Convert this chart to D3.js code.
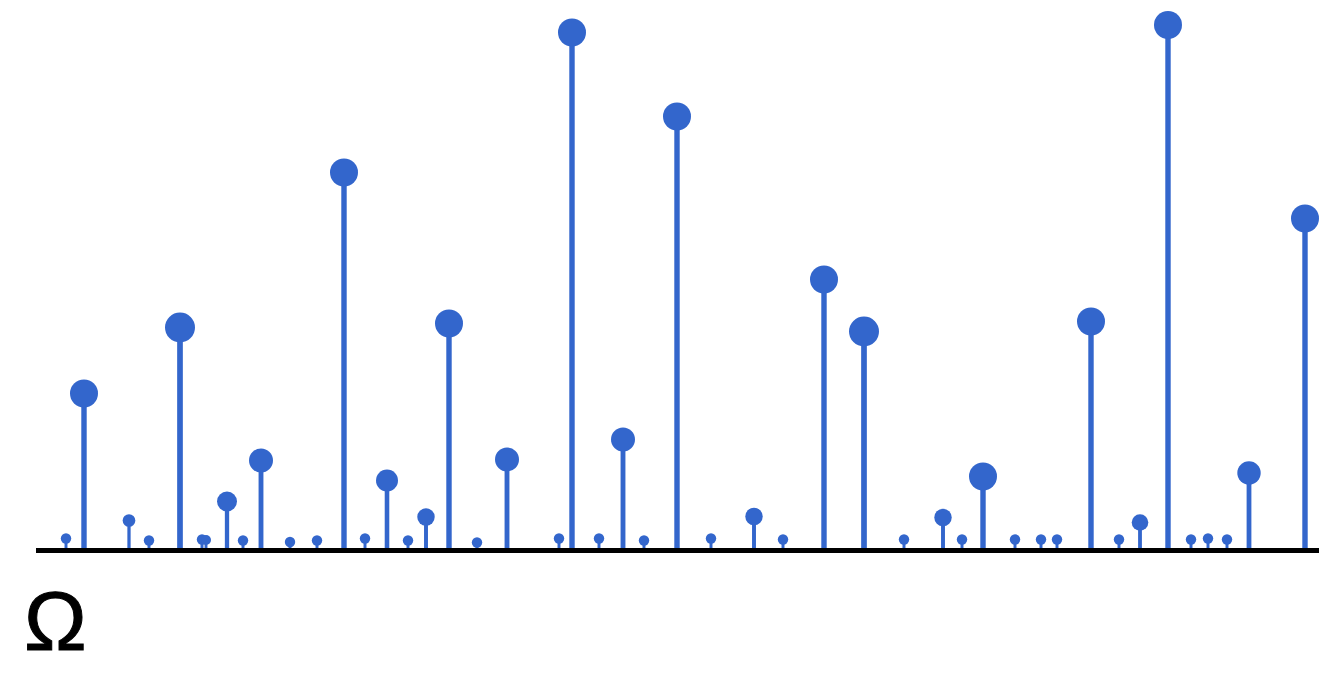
<!DOCTYPE html>
<html>
<head>
<meta charset="utf-8">
<script src="https://cdn.jsdelivr.net/npm/d3@7"></script>
<style>
  html, body { margin: 0; padding: 0; background: #ffffff; }
  svg { display: block; }
</style>
</head>
<body>
<svg id="chart" width="1319" height="675"></svg>
<script>
// ---- data ----
const positions = [66, 84, 129, 149, 180, 202, 206, 227, 243, 261, 290, 317, 344, 365, 387, 408, 426, 449, 477, 507,
                   559, 572, 599, 623, 644, 677, 711, 754, 783, 824, 864, 904, 943, 962, 983, 1015, 1041, 1057, 1091,
                   1119, 1140, 1168, 1191, 1208, 1227, 1249, 1305];
const values    = [12, 157, 30, 10, 223, 11, 10.5, 49, 10, 90, 8.5, 10, 378, 12, 70, 10, 33.5, 227, 8, 91,
                   12, 518, 12, 111, 10, 434, 12, 34, 11, 271, 219, 11, 33, 11, 74, 11, 11, 11, 229,
                   11, 28, 525.5, 11, 12, 11, 77.5, 332];
const weights   = [27, 196, 40, 27, 225, 27, 25, 100, 27, 144, 27, 27, 196, 27, 121, 27, 76, 196, 27, 144,
                   27, 196, 27, 144, 27, 196, 27, 76, 27, 196, 225, 27, 76, 27, 196, 27, 27, 27, 196,
                   27, 69, 196, 27, 27, 27, 137, 196];
const axisLabel = "Ω";

const data = positions.map((p, i) => ({ p, v: values[i], w: weights[i] }));

// ---- layout ----
const W = 1319, H = 675;
const baseY = 550.5;
const svg = d3.select("#chart");

const x = d3.scaleLinear().domain([0, 1319]).range([0, 1319]);
const y = d3.scaleLinear().domain([0, 526]).range([baseY, 24.5]);
const r = d3.scaleSqrt().domain([0, 225]).range([0, 15]);
const blue = "#3366cc";

// stems
svg.append("g").selectAll("line").data(data).join("line")
  .attr("x1", d => x(d.p)).attr("x2", d => x(d.p))
  .attr("y1", baseY).attr("y2", d => y(d.v))
  .attr("stroke", blue)
  .attr("stroke-width", d => 1.5 + r(d.w) * 0.28);

// circles
svg.append("g").selectAll("circle").data(data).join("circle")
  .attr("cx", d => x(d.p)).attr("cy", d => y(d.v))
  .attr("r", d => r(d.w))
  .attr("fill", blue);

// baseline
svg.append("line")
  .attr("x1", 36).attr("x2", W)
  .attr("y1", baseY).attr("y2", baseY)
  .attr("stroke", "#000").attr("stroke-width", 5);

// omega label
svg.append("text")
  .attr("x", 24).attr("y", 650)
  .attr("font-family", "Liberation Sans, Arial, sans-serif")
  .attr("font-size", 84)
  .attr("fill", "#000")
  .attr("stroke", "#000")
  .attr("stroke-width", 1)
  .text(axisLabel);
</script>
</body>
</html>
